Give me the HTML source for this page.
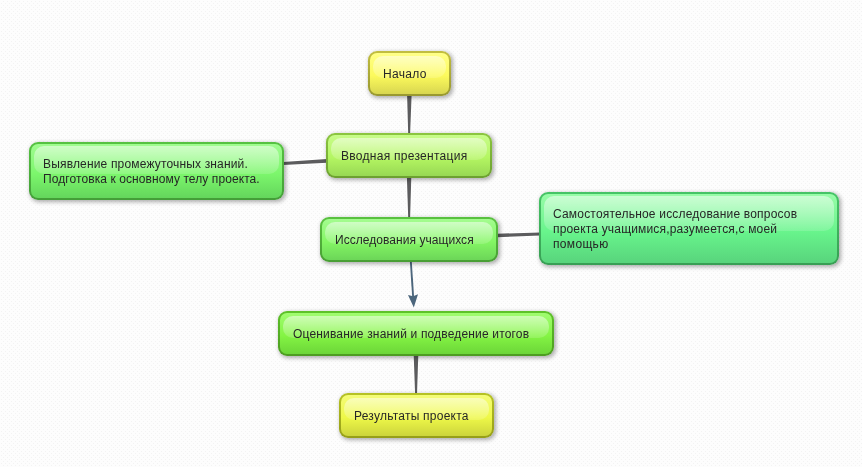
<!DOCTYPE html>
<html lang="ru">
<head>
<meta charset="utf-8">
<title>Схема проекта</title>
<style>
html,body{margin:0;padding:0;}
body{width:862px;height:467px;overflow:hidden;position:relative;
  background-color:#fdfdfd;
  font-family:"Liberation Sans",Arial,sans-serif;font-size:12px;color:#262626;}
#lines{position:absolute;left:0;top:0;}
.n{position:absolute;box-sizing:border-box;border-radius:9px;border:2px solid transparent;
  box-shadow:1.5px 1.5px 4px rgba(0,0,0,.32);line-height:15px;white-space:nowrap;}
.n i{position:absolute;left:3px;right:3px;border-radius:10px;
  background:linear-gradient(to bottom,rgba(255,255,255,.5),rgba(255,255,255,.14));}
.n span{position:absolute;will-change:transform;}
.y{background:linear-gradient(to bottom,#ffff88 0%,#fcfa5c 55%,#d8d650 100%) padding-box,linear-gradient(to bottom,#c2be40,#989830) border-box;}
.y2{background:linear-gradient(to bottom,#f4fc78 0%,#eef848 55%,#ccd43c 100%) padding-box,linear-gradient(to bottom,#b6c224,#969e18) border-box;}
.g1{background:linear-gradient(to bottom,#c8fc8a 0%,#b4f662 55%,#98d854 100%) padding-box,linear-gradient(to bottom,#8cc640,#6ca030) border-box;}
.g2{background:linear-gradient(to bottom,#a4fc90 0%,#84f664 55%,#6cd658 100%) padding-box,linear-gradient(to bottom,#5ac240,#489e34) border-box;}
.g3{background:linear-gradient(to bottom,#a0fc70 0%,#84f444 55%,#6cd638 100%) padding-box,linear-gradient(to bottom,#5ec22a,#4c9c20) border-box;}
.g4{background:linear-gradient(to bottom,#a0fc90 0%,#7cf66c 55%,#64d65c 100%) padding-box,linear-gradient(to bottom,#56c242,#449e38) border-box;}
.g5{background:linear-gradient(to bottom,#98fca8 0%,#68f48c 55%,#58d47c 100%) padding-box,linear-gradient(to bottom,#46c466,#389e54) border-box;}
</style>
</head>
<body>
<svg id="lines" width="862" height="467" viewBox="0 0 862 467">
  <defs><pattern id="dots" width="4" height="4" patternUnits="userSpaceOnUse"><rect x="3" y="1" width="1" height="1" fill="#f3f3f3"/><rect x="1" y="3" width="1" height="1" fill="#f3f3f3"/></pattern></defs>
  <rect x="0" y="0" width="862" height="467" fill="url(#dots)" shape-rendering="crispEdges"/>
  <g fill="#5c5c5e" stroke="#ffffff" stroke-opacity=".75" stroke-width="2.6" paint-order="stroke">
    <polygon points="407.1,95 411.6,95 410.1,134 408.2,134"/>
    <polygon points="406.9,177 411.3,177 410.1,218 408.2,218"/>
    <polygon points="283,162 327,158.95 327,162.75 283,164.9"/>
    <polygon points="497,233.7 540,232.5 540,235.4 497,237.2"/>
    <polygon points="413.7,355 418.3,355 417,394 415.1,394"/>
  </g>
  <line x1="410.8" y1="261" x2="413.2" y2="298" stroke="#4c667c" stroke-width="1.9"/>
  <polygon points="413.8,307.4 408,295 413.1,296.3 418,294.2" fill="#4c667c"/>
</svg>

<div class="n y" style="left:368px;top:51px;width:83px;height:45px;"><i style="top:3px;height:22px;"></i><span id="t0" style="left:13px;top:14px;letter-spacing:0.3px;">Начало</span></div>
<div class="n g1" style="left:326px;top:133px;width:166px;height:45px;"><i style="top:3px;height:22px;"></i><span id="t1" style="left:13px;top:14px;letter-spacing:0.28px;">Вводная презентация</span></div>
<div class="n g2" style="left:320px;top:217px;width:178px;height:45px;"><i style="top:3px;height:22px;"></i><span id="t2" style="left:13px;top:14px;letter-spacing:0.05px;">Исследования учащихся</span></div>
<div class="n g3" style="left:278px;top:311px;width:276px;height:45px;"><i style="top:3px;height:22px;"></i><span id="t3" style="left:13px;top:14px;letter-spacing:0.167px;">Оценивание знаний и подведение итогов</span></div>
<div class="n y2" style="left:339px;top:393px;width:155px;height:45px;"><i style="top:3px;height:22px;"></i><span id="t4" style="left:13px;top:14px;letter-spacing:0.235px;">Результаты проекта</span></div>
<div class="n g4" style="left:29px;top:142px;width:255px;height:58px;"><i style="top:2px;height:28px;"></i><span id="t5" style="left:12px;top:13px;letter-spacing:0.167px;">Выявление промежуточных знаний.</span><span id="t6" style="left:12px;top:28px;letter-spacing:0.086px;">Подготовка к основному телу проекта.</span></div>
<div class="n g5" style="left:539px;top:192px;width:300px;height:73px;"><i style="top:2px;height:35px;"></i><span id="t7" style="left:12px;top:13px;letter-spacing:0.194px;">Самостоятельное исследование вопросов</span><span id="t8" style="left:12px;top:28px;letter-spacing:0.176px;">проекта учащимися,разумеется,с моей</span><span id="t9" style="left:12px;top:43px;letter-spacing:0.33px;">помощью</span></div>
</body>
</html>
